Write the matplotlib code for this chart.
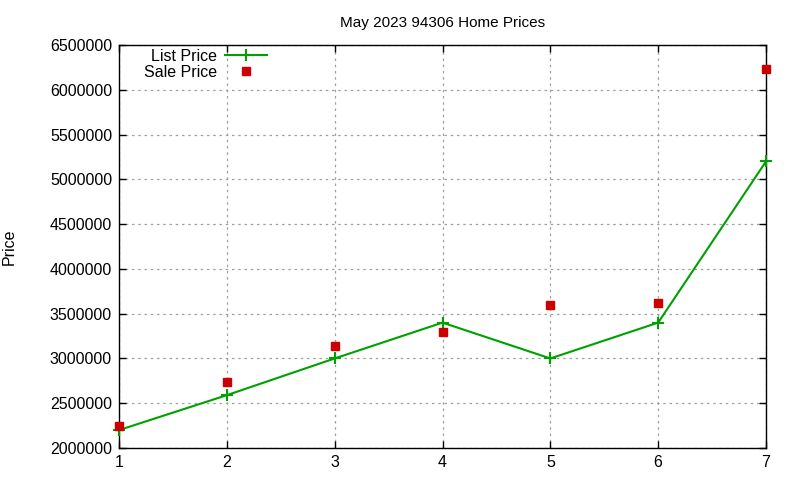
import matplotlib
matplotlib.use('Agg')
import matplotlib.pyplot as plt
from matplotlib.ticker import FuncFormatter

plt.rcParams['font.family'] = ['Liberation Sans', 'DejaVu Sans']

# listings, in order
house = [1, 2, 3, 4, 5, 6, 7]
list_price = [2200000, 2590000, 3000000, 3400000, 3000000, 3400000, 5200000]
sale_price = [2250000, 2740000, 3140000, 3300000, 3600000, 3620000, 6230000]

fig = plt.figure(figsize=(8, 4.8), dpi=100)
ax = fig.add_axes([119/800, 1 - 448/480, (766-119)/800, (448-45)/480])

ax.plot(house, list_price, color='#00a000', lw=1.5, marker='+', ms=8, mew=1.5,
        label='List Price', clip_on=False, zorder=3)
ax.plot(house, sale_price, ls='none', marker='s', color='#cc0000', ms=6,
        label='Sale Price', clip_on=False, zorder=3)

ax.set_xlim(1, 7)
ax.set_ylim(2000000, 6500000)
ax.set_xticks(range(1, 8))
ax.set_yticks(range(2000000, 6500001, 500000))
ax.yaxis.set_major_formatter(FuncFormatter(lambda v, p: '%d' % v))
ax.tick_params(direction='in', top=True, right=True, length=5, width=1,
               labelsize=11.5, pad=5)
ax.grid(True, color='#a0a0a0', ls=(0, (2, 3)), lw=0.9)
for s in ax.spines.values():
    s.set_linewidth(1.0)

ax.set_title('May 2023 94306 Home Prices', fontsize=11, pad=13)
ax.set_ylabel('Price', fontsize=11.5, labelpad=24)

leg = ax.legend(loc='upper left', bbox_to_anchor=(0.024, 1.014), frameon=False,
                markerfirst=False, fontsize=11.5, handlelength=2.6,
                handletextpad=0.5, labelspacing=0.05, borderaxespad=0.2)

fig.savefig('out.png', dpi=100)
